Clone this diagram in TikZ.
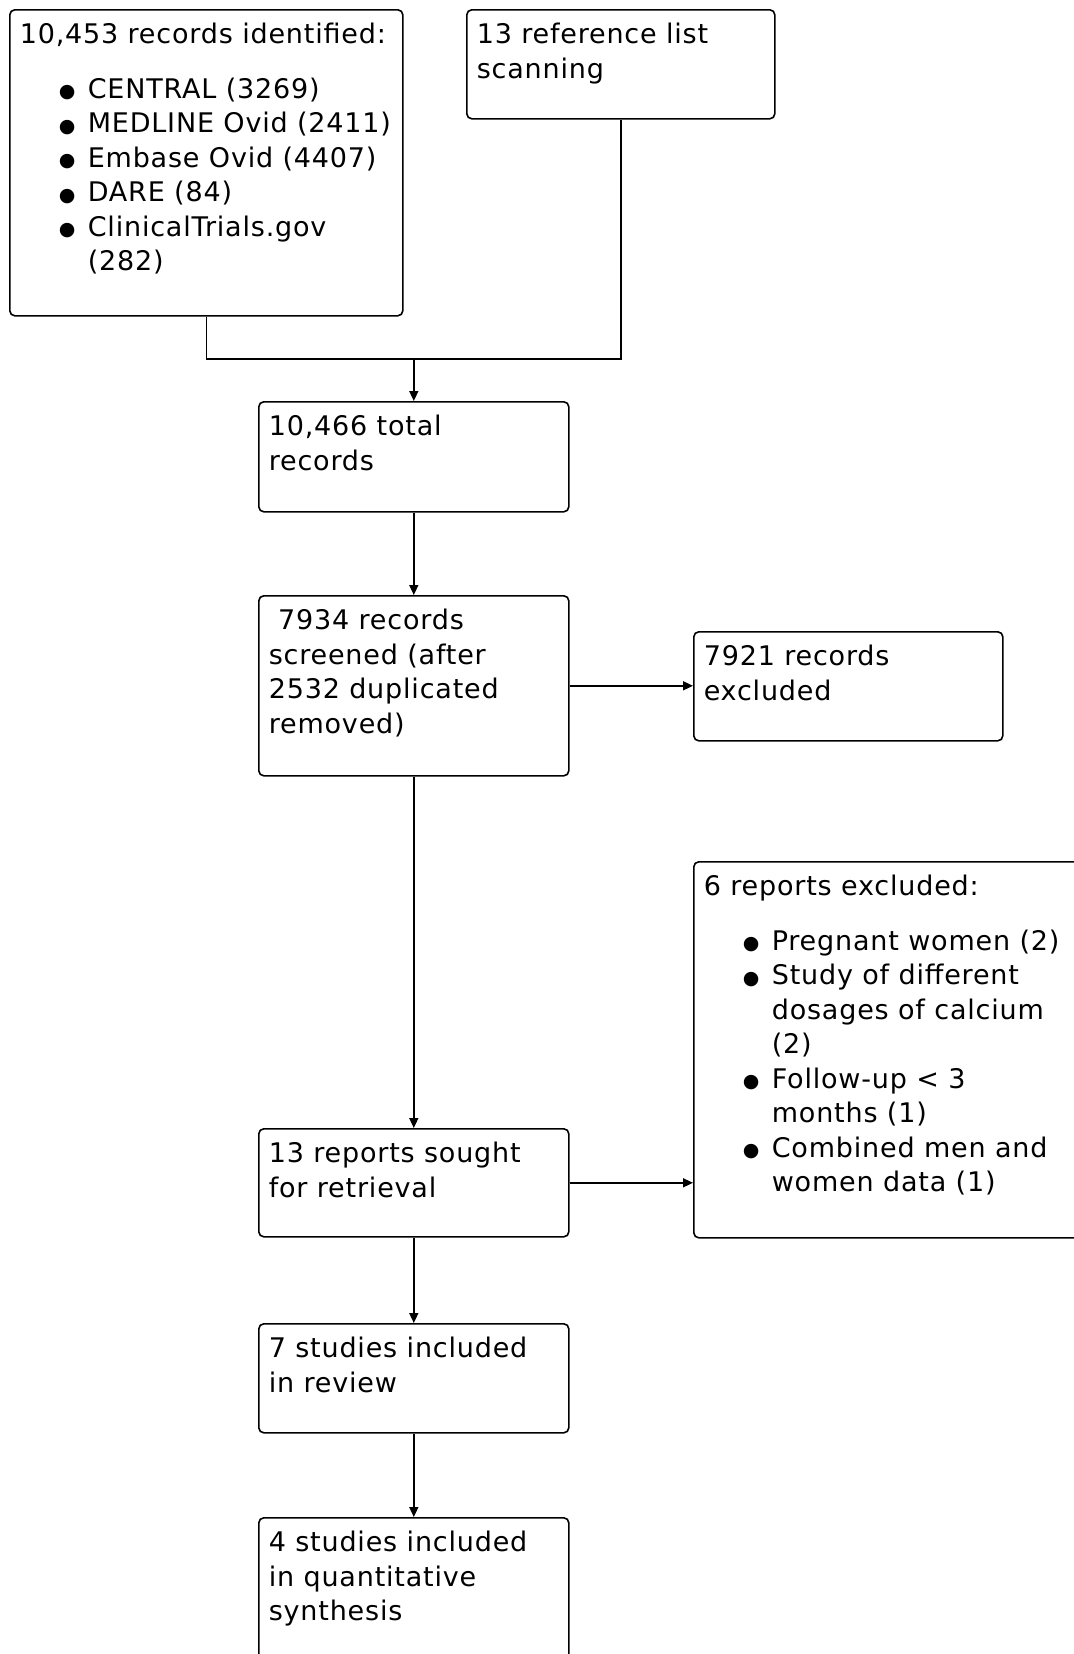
\documentclass[tikz,border=0pt]{standalone}
\usepackage{fontspec}
\setmainfont{DejaVu Sans}[LetterSpace=3.0]
\usetikzlibrary{arrows.meta}

\newcommand{\boxtxt}[3]{\parbox[c][#2][t]{#1}{\begin{tabular}[t]{@{}l@{}}#3\end{tabular}}}
\newcommand{\dotmark}{\raisebox{0.3pt}{\fontsize{9.5}{9.5}\selectfont ●}}
\newcommand{\itm}[1]{\hspace*{19.5pt}\makebox[14.5pt][l]{\dotmark}\begin{tabular}[t]{@{}l@{}}#1\end{tabular}}

\begin{document}
\begin{tikzpicture}[x=0.5pt,y=-0.5pt]
	\tikzstyle{Box} = [draw, line width=0.8pt, rounded corners=2.5pt, anchor=north west, inner sep=5pt, font=\fontsize{13.5}{17.25}\selectfont]
	\tikzstyle{Arrow} = [line width=0.8pt, -{Triangle[length=5pt,width=4.5pt]}]
	\useasboundingbox (0,0) rectangle (1073,1654);
	\node (1) at (9,9) [Box] {\boxtxt{186.5pt}{143pt}{10,453 records identified:\\[10pt]
		\itm{CENTRAL (3269)}\\ \itm{MEDLINE Ovid (2411)}\\ \itm{Embase Ovid (4407)}\\
		\itm{DARE (84)}\\ \itm{ClinicalTrials.gov\\(282)}}};
	\node (2) at (466,9) [Box] {\boxtxt{144pt}{44.5pt}{13 reference list\\scanning}};
	\node (3) at (258,401) [Box] {\boxtxt{145pt}{45pt}{10,466 total\\records}};
	\node (4) at (258,595) [Box] {\boxtxt{145pt}{80pt}{~7934 records\\screened (after\\2532 duplicated\\removed)}};
	\node (5) at (693,631) [Box] {\boxtxt{144.5pt}{44.5pt}{7921 records\\excluded}};
	\node (6) at (693,861) [Box] {\boxtxt{200pt}{178pt}{6 reports excluded:\\[10pt]
		\itm{Pregnant women (2)}\\ \itm{Study of different\\dosages of calcium\\(2)}\\
		\itm{Follow-up < 3\\months (1)}\\ \itm{Combined men and\\women data (1)}}};
	\node (7) at (258,1128) [Box] {\boxtxt{145pt}{44pt}{13 reports sought\\for retrieval}};
	\node (8) at (258,1323) [Box] {\boxtxt{145pt}{44.5pt}{7 studies included\\in review}};
	\node (9) at (258,1517) [Box] {\boxtxt{145pt}{90pt}{4 studies included\\in quantitative\\synthesis}};
	\coordinate (j) at (3.north |- 0,359);
	\draw [line width=0.8pt] (1.south) |- (j) -| (2.south);
	\draw [Arrow] (j) to (3.north);
	\draw [Arrow] (3) to (4);
	\draw [Arrow] (4.east) to (4.east -| 5.west);
	\draw [Arrow] (4) to (7);
	\draw [Arrow] (7.east) to (7.east -| 6.west);
	\draw [Arrow] (7) to (8);
	\draw [Arrow] (8) to (9);
\end{tikzpicture}
\end{document}
